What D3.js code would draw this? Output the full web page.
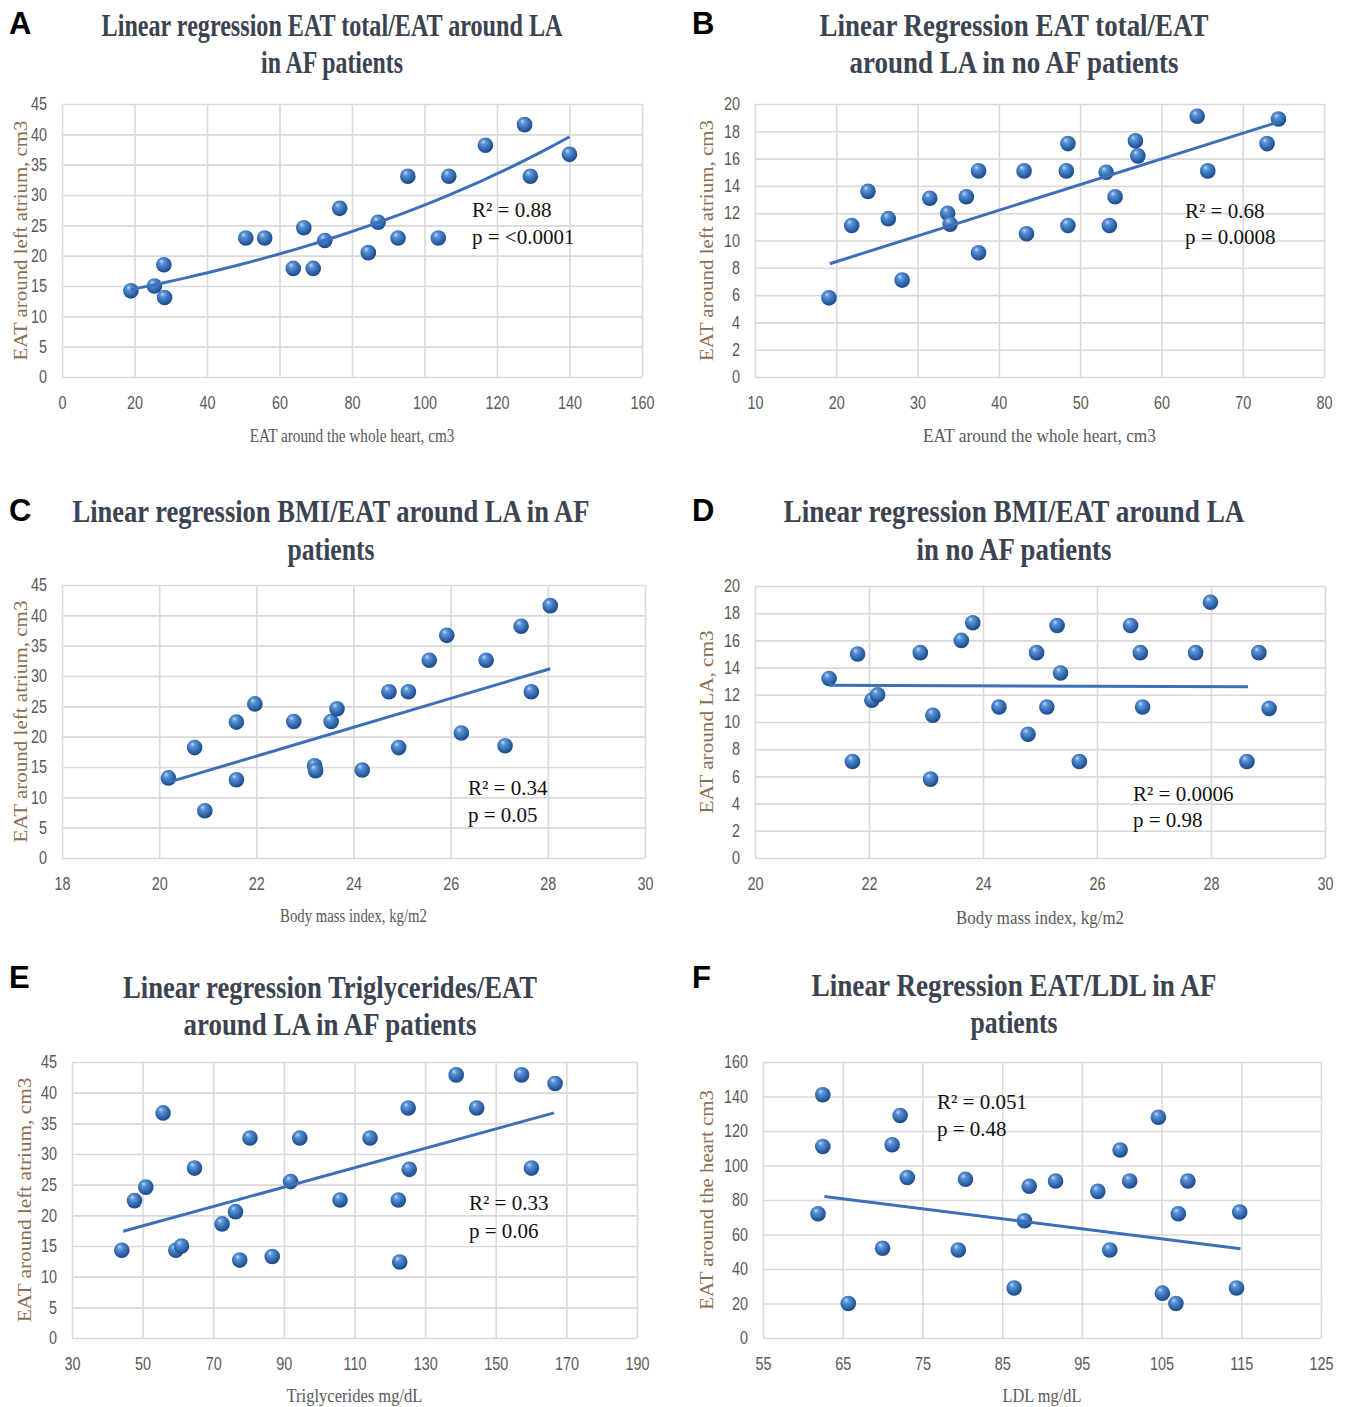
<!DOCTYPE html>
<html>
<head>
<meta charset="utf-8">
<script src="https://cdn.jsdelivr.net/npm/d3@7"></script>
<style>
  body { margin: 0; background: #fff; }
  svg { display: block; }
</style>
</head>
<body>
<div id="chart"></div>
<script>
const width = 1351;
const height = 1407;

// A - EAT total / EAT around LA, AF patients
const aX = [19.0, 25.5, 28.1, 28.3, 50.7, 55.9, 63.8, 66.7, 69.3, 72.5, 76.6, 84.5, 87.2, 92.7, 95.4, 103.8, 106.7, 116.8, 127.6, 129.2, 140.0];
const aY = [14.2, 15.0, 18.5, 13.1, 22.9, 22.9, 17.9, 24.6, 17.9, 22.5, 27.8, 20.5, 25.5, 22.9, 33.1, 22.9, 33.1, 38.2, 41.6, 33.1, 36.7];
const aFit = [[19, 14.4], [140, 39.6]];   // exponential trend
const aXTicks = [0, 20, 40, 60, 80, 100, 120, 140, 160];
const aYTicks = [0, 5, 10, 15, 20, 25, 30, 35, 40, 45];

// B - EAT total / EAT around LA, no AF
const bX = [19.1, 21.9, 23.9, 26.4, 28.1, 31.5, 33.7, 34.0, 36.0, 37.5, 37.5, 43.1, 43.4, 48.3, 48.5, 48.5, 53.2, 53.6, 54.3, 56.8, 57.1, 64.4, 65.7, 73.0, 74.4];
const bY = [5.8, 11.1, 13.6, 11.6, 7.1, 13.1, 12.0, 11.2, 13.2, 15.1, 9.1, 15.1, 10.5, 15.1, 17.1, 11.1, 15.0, 11.1, 13.2, 17.3, 16.2, 19.1, 15.1, 17.1, 18.9];
const bFit = [[19.2, 8.3], [74.5, 18.7]];
const bXTicks = [10, 20, 30, 40, 50, 60, 70, 80];
const bYTicks = [0, 2, 4, 6, 8, 10, 12, 14, 16, 18, 20];

// C - BMI / EAT around LA, AF
const cX = [20.19, 20.73, 20.94, 21.59, 21.59, 21.97, 22.77, 23.2, 23.22, 23.54, 23.66, 24.18, 24.73, 24.93, 25.13, 25.56, 25.92, 26.22, 26.73, 27.12, 27.45, 27.66, 28.05];
const cY = [13.2, 18.2, 7.8, 22.4, 12.9, 25.4, 22.5, 15.2, 14.4, 22.5, 24.6, 14.5, 27.4, 18.2, 27.4, 32.6, 36.7, 20.6, 32.6, 18.5, 38.2, 27.4, 41.6];
const cFit = [[20.2, 12.5], [28.05, 31.2]];
const cXTicks = [18, 20, 22, 24, 26, 28, 30];
const cYTicks = [0, 5, 10, 15, 20, 25, 30, 35, 40, 45];

// D - BMI / EAT around LA, no AF
const dX = [21.3, 21.71, 21.8, 22.05, 22.15, 22.9, 23.12, 23.08, 23.62, 23.82, 24.28, 24.79, 24.94, 25.12, 25.3, 25.36, 25.69, 26.59, 26.76, 26.8, 27.73, 27.99, 28.63, 28.84, 29.02];
const dY = [13.2, 7.1, 15.0, 11.6, 12.0, 15.1, 10.5, 5.8, 16.0, 17.3, 11.1, 9.1, 15.1, 11.1, 17.1, 13.6, 7.1, 17.1, 15.1, 11.1, 15.1, 18.8, 7.1, 15.1, 11.0];
const dFit = [[21.3, 12.7], [28.65, 12.6]];
const dXTicks = [20, 22, 24, 26, 28, 30];
const dYTicks = [0, 2, 4, 6, 8, 10, 12, 14, 16, 18, 20];

// E - Triglycerides / EAT around LA, AF
const eX = [44.1, 47.7, 50.9, 55.8, 59.4, 61.0, 64.7, 72.5, 76.3, 77.5, 80.4, 86.7, 91.9, 94.5, 105.9, 114.4, 122.4, 122.8, 125.2, 125.5, 138.8, 144.6, 157.3, 160.1, 166.8];
const eY = [14.3, 22.4, 24.6, 36.7, 14.3, 15.0, 27.7, 18.6, 20.6, 12.7, 32.6, 13.3, 25.5, 32.6, 22.5, 32.6, 22.5, 12.4, 37.5, 27.5, 42.9, 37.5, 42.9, 27.7, 41.5];
const eFit = [[44.5, 17.4], [166.5, 36.7]];
const eXTicks = [30, 50, 70, 90, 110, 130, 150, 170, 190];
const eYTicks = [0, 5, 10, 15, 20, 25, 30, 35, 40, 45];

// F - EAT / LDL, AF
const fX = [62.5, 62.5, 61.9, 65.7, 70.0, 71.2, 72.2, 73.1, 79.5, 80.4, 86.5, 87.8, 88.4, 91.7, 97.0, 98.5, 99.8, 101.0, 104.6, 105.1, 106.8, 107.1, 108.3, 114.4, 114.8];
const fY = [141, 111, 72, 20, 52, 112, 129, 93, 51, 92, 29, 68, 88, 91, 85, 51, 109, 91, 128, 26, 20, 72, 91, 29, 73];
const fFit = [[62.7, 82], [114.9, 51.8]];
const fXTicks = [55, 65, 75, 85, 95, 105, 115, 125];
const fYTicks = [0, 20, 40, 60, 80, 100, 120, 140, 160];

const panels = [
  { letter: "A", xs: aX, ys: aY, fit: aFit, fitType: "exp", xTicks: aXTicks, yTicks: aYTicks,
    plot: [62, 104, 642, 377], cx: 332, letterPos: [9, 34],
    title: ["Linear regression EAT total/EAT around LA", "in AF patients"], titleW: [461, 142], titleY: [36, 73],
    xTitle: "EAT around the whole heart, cm3", xTitleW: 205, xTitleY: 442,
    yTitle: "EAT around  left atrium, cm3", yTitleW: 240, yTitleX: 20,
    note: ["R² = 0.88", "p = <0.0001"], noteX: 472, noteY: [217, 244] },
  { letter: "B", xs: bX, ys: bY, fit: bFit, xTicks: bXTicks, yTicks: bYTicks,
    plot: [755, 104, 1324, 377], cx: 1014, letterPos: [692, 34],
    title: ["Linear Regression EAT total/EAT", "around LA in no AF patients"], titleW: [389, 329], titleY: [36, 73],
    xTitle: "EAT around the whole heart, cm3", xTitleW: 233, xTitleY: 442,
    yTitle: "EAT around  left atrium, cm3", yTitleW: 241, yTitleX: 706,
    note: ["R² = 0.68", "p = 0.0008"], noteX: 1185, noteY: [218, 244] },
  { letter: "C", xs: cX, ys: cY, fit: cFit, xTicks: cXTicks, yTicks: cYTicks,
    plot: [62, 585, 645, 858], cx: 331, letterPos: [9, 521],
    title: ["Linear regression BMI/EAT around LA in AF", "patients"], titleW: [517, 87], titleY: [522, 560],
    xTitle: "Body mass index,  kg/m2", xTitleW: 147, xTitleY: 922,
    yTitle: "EAT around  left atrium, cm3", yTitleW: 242, yTitleX: 20,
    note: ["R² = 0.34", "p = 0.05"], noteX: 468, noteY: [795, 822] },
  { letter: "D", xs: dX, ys: dY, fit: dFit, xTicks: dXTicks, yTicks: dYTicks,
    plot: [755, 586, 1325, 858], cx: 1014, letterPos: [692, 521],
    title: ["Linear regression BMI/EAT around LA", "in no AF patients"], titleW: [461, 195], titleY: [522, 560],
    xTitle: "Body mass index,  kg/m2", xTitleW: 168, xTitleY: 924,
    yTitle: "EAT around LA, cm3", yTitleW: 183, yTitleX: 706,
    note: ["R² = 0.0006", "p = 0.98"], noteX: 1133, noteY: [801, 827] },
  { letter: "E", xs: eX, ys: eY, fit: eFit, xTicks: eXTicks, yTicks: eYTicks,
    plot: [72, 1062, 637, 1338], cx: 330, letterPos: [9, 988],
    title: ["Linear regression Triglycerides/EAT", "around LA in AF patients"], titleW: [414, 293], titleY: [998, 1035],
    xTitle: "Triglycerides mg/dL", xTitleW: 136, xTitleY: 1402,
    yTitle: "EAT around   left atrium, cm3", yTitleW: 245, yTitleX: 24,
    note: ["R² = 0.33", "p = 0.06"], noteX: 469, noteY: [1210, 1238] },
  { letter: "F", xs: fX, ys: fY, fit: fFit, xTicks: fXTicks, yTicks: fYTicks,
    plot: [763, 1062, 1321, 1338], cx: 1014, letterPos: [692, 988],
    title: ["Linear Regression EAT/LDL in AF", "patients"], titleW: [405, 87], titleY: [996, 1033],
    xTitle: "LDL mg/dL", xTitleW: 79, xTitleY: 1402,
    yTitle: "EAT around  the heart cm3", yTitleW: 220, yTitleX: 706,
    note: ["R² = 0.051", "p = 0.48"], noteX: 937, noteY: [1109, 1136] }
];

const svg = d3.select("#chart").append("svg")
  .attr("width", width)
  .attr("height", height);

svg.append("rect").attr("width", width).attr("height", height).attr("fill", "#fff");

// shaded ball marker
const grad = svg.append("defs").append("radialGradient")
  .attr("id", "ball")
  .attr("cx", "45%").attr("cy", "40%").attr("r", "60%")
  .attr("fx", "35%").attr("fy", "28%");
grad.append("stop").attr("offset", "0%").attr("stop-color", "#c6ddf7");
grad.append("stop").attr("offset", "25%").attr("stop-color", "#5e96d8");
grad.append("stop").attr("offset", "70%").attr("stop-color", "#2f66ad");
grad.append("stop").attr("offset", "100%").attr("stop-color", "#1b4680");

const tickFont = "'Liberation Sans', Arial, sans-serif";
const serif = "'Liberation Serif', 'Times New Roman', serif";
const narrow = 0.8;

// squeeze a text horizontally so it spans w pixels
function squeeze(text, w, pre) {
  const s = w / text.node().getComputedTextLength();
  text.attr("transform", `${pre} scale(${s},1)`);
}

function drawPanel(p) {
  const [x0, y0, x1, y1] = p.plot;
  const x = d3.scaleLinear().domain(d3.extent(p.xTicks)).range([x0, x1]);
  const y = d3.scaleLinear().domain(d3.extent(p.yTicks)).range([y1, y0]);
  const g = svg.append("g");

  // grid
  g.append("g")
    .attr("transform", `translate(0,${y1})`)
    .call(d3.axisBottom(x).tickValues(p.xTicks).tickSize(-(y1 - y0)).tickFormat(""))
    .call(s => s.select(".domain").remove())
    .attr("color", "#d9d9d9")
    .selectAll("line").attr("stroke-width", 1.6);
  g.append("g")
    .attr("transform", `translate(${x0},0)`)
    .call(d3.axisLeft(y).tickValues(p.yTicks).tickSize(-(x1 - x0)).tickFormat(""))
    .call(s => s.select(".domain").remove())
    .attr("color", "#d9d9d9")
    .selectAll("line").attr("stroke-width", 1.6);

  // tick labels (condensed)
  g.append("g")
    .attr("transform", `translate(0,${y1})`)
    .call(d3.axisBottom(x).tickValues(p.xTicks).tickSize(0).tickPadding(19))
    .call(s => s.select(".domain").remove())
    .attr("font-family", tickFont).attr("font-size", 18).attr("color", "#595959")
    .selectAll("text").attr("transform", `scale(${narrow},1)`);
  g.append("g")
    .attr("transform", `translate(${x0},0)`)
    .call(d3.axisLeft(y).tickValues(p.yTicks).tickSize(0).tickPadding(15))
    .call(s => s.select(".domain").remove())
    .attr("font-family", tickFont).attr("font-size", 18).attr("color", "#595959")
    .selectAll("text")
    .attr("x", -15 / narrow)
    .attr("transform", `scale(${narrow},1)`);

  // trend line
  const [[fx0, fy0], [fx1, fy1]] = p.fit;
  let pts = p.fit;
  if (p.fitType === "exp") {
    const k = Math.log(fy1 / fy0) / (fx1 - fx0);
    pts = d3.range(41).map(i => {
      const xv = fx0 + (fx1 - fx0) * i / 40;
      return [xv, fy0 * Math.exp(k * (xv - fx0))];
    });
  }

  // points
  g.append("g").selectAll("circle")
    .data(d3.zip(p.xs, p.ys))
    .enter()
    .append("circle")
    .attr("cx", d => x(d[0]))
    .attr("cy", d => y(d[1]))
    .attr("r", 7.8)
    .attr("fill", "url(#ball)");

  g.append("path")
    .datum(pts)
    .attr("d", d3.line().x(d => x(d[0])).y(d => y(d[1])))
    .attr("fill", "none")
    .attr("stroke", "#3d70b8")
    .attr("stroke-width", 3);

  // titles
  p.title.forEach((t, i) => {
    const tt = g.append("text")
      .attr("text-anchor", "middle")
      .attr("font-family", serif).attr("font-weight", "bold").attr("font-size", 32)
      .attr("fill", "#3c4350")
      .text(t);
    squeeze(tt, p.titleW[i], `translate(${p.cx},${p.titleY[i]})`);
  });

  g.append("text")
    .attr("x", p.letterPos[0]).attr("y", p.letterPos[1])
    .attr("font-family", "'Liberation Sans', Arial, sans-serif")
    .attr("font-weight", "bold").attr("font-size", 31)
    .attr("fill", "#000")
    .text(p.letter);

  // axis titles
  const xt = g.append("text")
    .attr("text-anchor", "middle")
    .attr("font-family", serif).attr("font-size", 19)
    .attr("fill", "#595959")
    .text(p.xTitle);
  squeeze(xt, p.xTitleW, `translate(${(x0 + x1) / 2},${p.xTitleY})`);

  const yt = g.append("text")
    .attr("text-anchor", "middle")
    .attr("dominant-baseline", "central")
    .attr("font-family", serif).attr("font-size", 19)
    .attr("fill", "#8c6d50")
    .text(p.yTitle);
  squeeze(yt, p.yTitleW, `translate(${p.yTitleX},${(y0 + y1) / 2}) rotate(-90)`);

  // R2 / p note
  p.note.forEach((t, i) => {
    g.append("text")
      .attr("x", p.noteX).attr("y", p.noteY[i])
      .attr("font-family", serif).attr("font-size", 21)
      .attr("fill", "#111")
      .text(t);
  });
}

panels.forEach(drawPanel);
</script>
</body>
</html>
